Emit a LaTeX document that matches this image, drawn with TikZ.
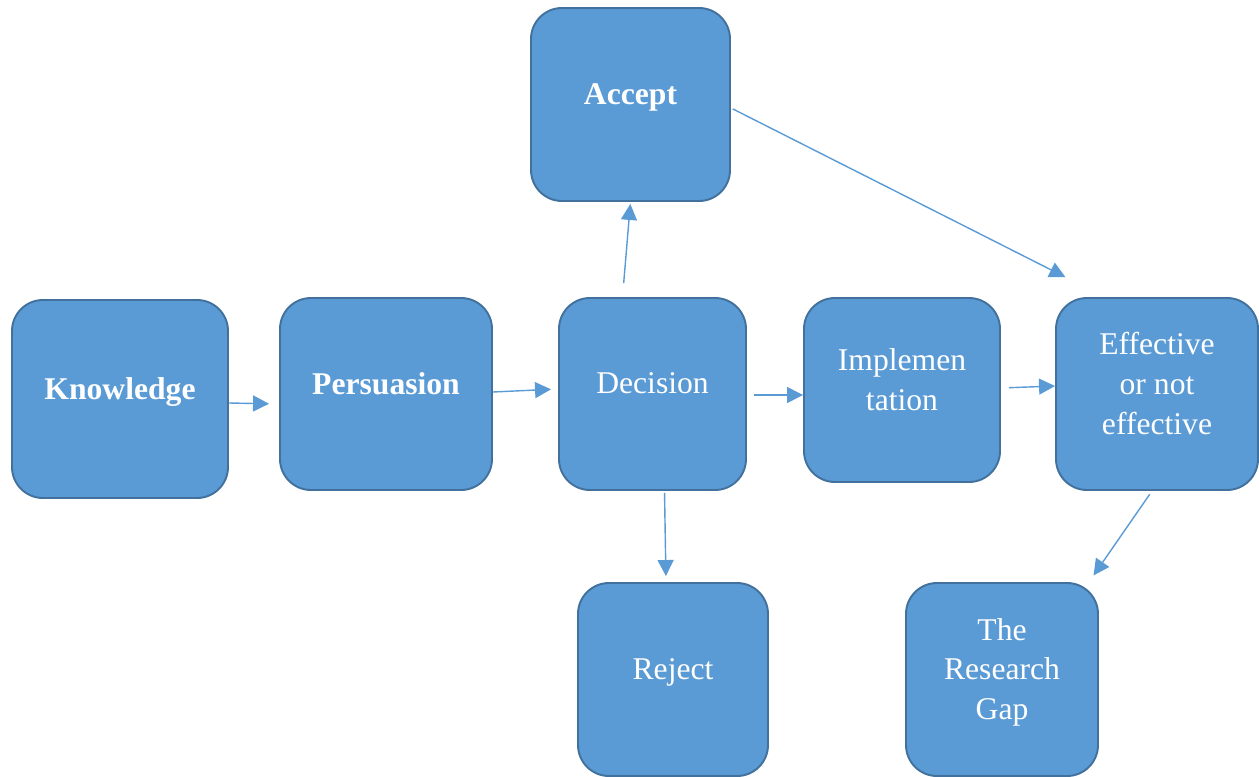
\documentclass[tikz,border=0pt]{standalone}
\usepackage{fontspec}
\setmainfont{Liberation Serif}
\usepackage{tikz}
\usetikzlibrary{positioning, arrows.meta, calc}
\definecolor{boxfill}{HTML}{5B9BD5}
\definecolor{boxline}{HTML}{41719C}
\definecolor{arr}{HTML}{5B9BD5}

\begin{document}
\begin{tikzpicture}[
    box/.style={draw=boxline, line width=1.1pt, fill=boxfill, rounded corners=0.62cm,
      text=white, align=center, font=\fontsize{18}{22.7}\selectfont, inner sep=0pt,
      text depth=0.42cm},
    link/.style={draw=arr, line width=0.8pt, -{Triangle[length=0.32cm,width=0.32cm]}}
  ]
  \useasboundingbox (0,0) rectangle (25.18,15.52);
  % boxes
  \node[box,minimum width=4.32cm,minimum height=3.96cm] (knowledge) at (2.40,7.54) {\bfseries Knowledge};
  \node[box,minimum width=4.24cm,minimum height=3.84cm] (persuasion) at (7.72,7.64) {\bfseries Persuasion};
  \node[box,minimum width=3.74cm,minimum height=3.84cm] (decision) at (13.05,7.64) {Decision};
  \node[box,minimum width=3.98cm,minimum height=3.86cm] (accept) at (12.61,13.43) {\bfseries Accept};
  \node[box,minimum width=3.92cm,minimum height=3.68cm] (implement) at (18.04,7.72) {Implemen\\tation};
  \node[box,minimum width=4.04cm,minimum height=3.84cm] (effective) at (23.14,7.64) {Effective\\or not\\effective};
  \node[box,minimum width=3.80cm,minimum height=3.86cm] (reject) at (13.46,1.93) {Reject};
  \node[box,minimum width=3.84cm,minimum height=3.86cm] (gap) at (20.04,1.93) {The\\Research\\Gap};
  % connectors
  \draw[link,shorten >=0.2cm] ([yshift=-0.08cm]knowledge.east) -- ([yshift=-0.2cm]persuasion.west);
  \draw[link,shorten >=0.14cm] ([yshift=0.04cm]persuasion.east) -- ([yshift=0.1cm]decision.west);
  \draw[link,shorten <=0.28cm,shorten >=0.04cm] ([xshift=-0.6cm]decision.north) -- (accept.south);
  \draw[link,shorten <=0.14cm] ([yshift=-0.02cm]decision.east) -- ([yshift=-0.1cm]implement.west);
  \draw[link,shorten <=0.16cm] ([yshift=0.04cm]implement.east) -- ([yshift=0.16cm]effective.west);
  \draw[link,shorten <=0.04cm,shorten >=0.12cm] ([xshift=0.24cm]decision.south) -- ([xshift=-0.14cm]reject.north);
  \draw[link,shorten <=0.04cm,shorten >=0.44cm] ([yshift=-0.07cm]accept.east) -- ([xshift=0.6cm,yshift=0.2cm]effective.north west);
  \draw[link,shorten <=0.08cm,shorten >=0.16cm] ([xshift=-0.1cm]effective.south) -- ([xshift=-0.2cm]gap.north east);
\end{tikzpicture}
\end{document}
